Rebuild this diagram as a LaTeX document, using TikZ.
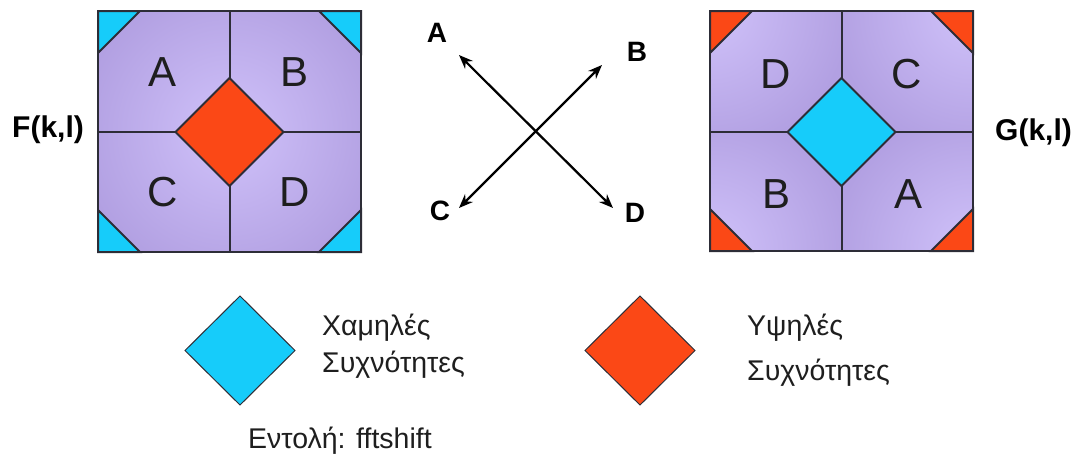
\documentclass[tikz,border=0pt]{standalone}
\usepackage{fontspec}
\setmainfont{Liberation Sans}
\usetikzlibrary{arrows.meta}
\definecolor{purp}{RGB}{178,160,226}
\definecolor{purpl}{RGB}{208,194,250}
\definecolor{cyanf}{RGB}{22,204,250}
\definecolor{redf}{RGB}{251,72,22}
\definecolor{edge}{RGB}{45,45,55}
\definecolor{txt}{RGB}{30,30,30}
\tikzset{
  edgeline/.style={draw=edge, line width=2pt},
  bigletter/.style={inner sep=0pt, text=txt, font=\fontsize{42}{48}\selectfont},
  arrlabel/.style={inner sep=0pt, text=black, font=\fontsize{28}{32}\selectfont\bfseries},
  funlabel/.style={inner sep=0pt, anchor=base west, text=black, font=\fontsize{30}{34}\selectfont\bfseries},
  legtext/.style={inner sep=0pt, anchor=base west, text=txt, font=\fontsize{28.5}{32}\selectfont},
  arrowline/.style={line width=2.2pt, black, {Stealth[length=14pt,width=11pt]}-{Stealth[length=14pt,width=11pt]}},
}
\begin{document}
\begin{tikzpicture}[x=1pt,y=-1pt]
\useasboundingbox (0,0) rectangle (1078,455);

% ---------------- Left square F(k,l)
\begin{scope}
  \clip (98,11) rectangle (361,252);
  \fill[purp] (98,11) rectangle (361,252);
  \shade[inner color=purpl, outer color=purp] (229.5,132) circle (150);
\end{scope}
\draw[edgeline] (229.5,11) -- (229.5,252);
\draw[edgeline] (98,132) -- (361,132);
\filldraw[fill=redf, edgeline] (229.5,78) -- (283.5,132) -- (229.5,186) -- (175.5,132) -- cycle;
\filldraw[fill=cyanf, edgeline] (98,11) -- (140,11) -- (98,53) -- cycle;
\filldraw[fill=cyanf, edgeline] (361,11) -- (319,11) -- (361,53) -- cycle;
\filldraw[fill=cyanf, edgeline] (98,252) -- (140,252) -- (98,210) -- cycle;
\filldraw[fill=cyanf, edgeline] (361,252) -- (319,252) -- (361,210) -- cycle;
\draw[edgeline] (98,11) rectangle (361,252);
\node[bigletter] (fA) at (163,72) {A};
\node[bigletter] (fB) at (295,72) {B};
\node[bigletter] (fC) at (163,192) {C};
\node[bigletter] (fD) at (295,192) {D};
\node[funlabel] (F) at (12,137) {F(k,l)};

% ---------------- Right square G(k,l)
\fill[purp] (710,11) rectangle (973,251);
\begin{scope}
  \clip (710,11) rectangle (841.5,132);
  \shade[inner color=purpl, outer color=purp] (710,11) circle (140);
\end{scope}
\begin{scope}
  \clip (841.5,11) rectangle (973,132);
  \shade[inner color=purpl, outer color=purp] (973,11) circle (140);
\end{scope}
\begin{scope}
  \clip (710,132) rectangle (841.5,251);
  \shade[inner color=purpl, outer color=purp] (710,251) circle (140);
\end{scope}
\begin{scope}
  \clip (841.5,132) rectangle (973,251);
  \shade[inner color=purpl, outer color=purp] (973,251) circle (140);
\end{scope}
\draw[edgeline] (841.5,11) -- (841.5,251);
\draw[edgeline] (710,132) -- (973,132);
\filldraw[fill=cyanf, edgeline] (841.5,78) -- (895.5,132) -- (841.5,186) -- (787.5,132) -- cycle;
\filldraw[fill=redf, edgeline] (710,11) -- (752,11) -- (710,53) -- cycle;
\filldraw[fill=redf, edgeline] (973,11) -- (931,11) -- (973,53) -- cycle;
\filldraw[fill=redf, edgeline] (710,251) -- (752,251) -- (710,209) -- cycle;
\filldraw[fill=redf, edgeline] (973,251) -- (931,251) -- (973,209) -- cycle;
\draw[edgeline] (710,11) rectangle (973,251);
\node[bigletter] (gD) at (776,74) {D};
\node[bigletter] (gC) at (907,74) {C};
\node[bigletter] (gB) at (776,194) {B};
\node[bigletter] (gA) at (908,194) {A};
\node[funlabel] (G) at (995,140) {G(k,l)};

% ---------------- Crossing arrows
\coordinate (aA) at (459,55);
\coordinate (aD) at (613,208);
\coordinate (aB) at (602,65);
\coordinate (aC) at (459,208);
\draw[arrowline] (aA) -- (aD);
\draw[arrowline] (aB) -- (aC);
\node[arrlabel] (lA) at (437,33) {A};
\node[arrlabel] (lB) at (637,52) {B};
\node[arrlabel] (lC) at (440,211) {C};
\node[arrlabel] (lD) at (635,213) {D};

% ---------------- Legend
\filldraw[fill=cyanf, draw=edge, line width=1pt] (240,296) -- (295,350.5) -- (240,405) -- (185,350.5) -- cycle;
\node[legtext] (low1) at (322,335) {Χαμηλές};
\node[legtext] (low2) at (322,372) {Συχνότητες};
\filldraw[fill=redf, draw=edge, line width=1pt] (640,296) -- (695,350.5) -- (640,405) -- (585,350.5) -- cycle;
\node[legtext] (high1) at (747,335) {Υψηλές};
\node[legtext] (high2) at (747,380) {Συχνότητες};
\node[legtext] (cmd) at (248,448) {Εντολή: fftshift};
\end{tikzpicture}
\end{document}
